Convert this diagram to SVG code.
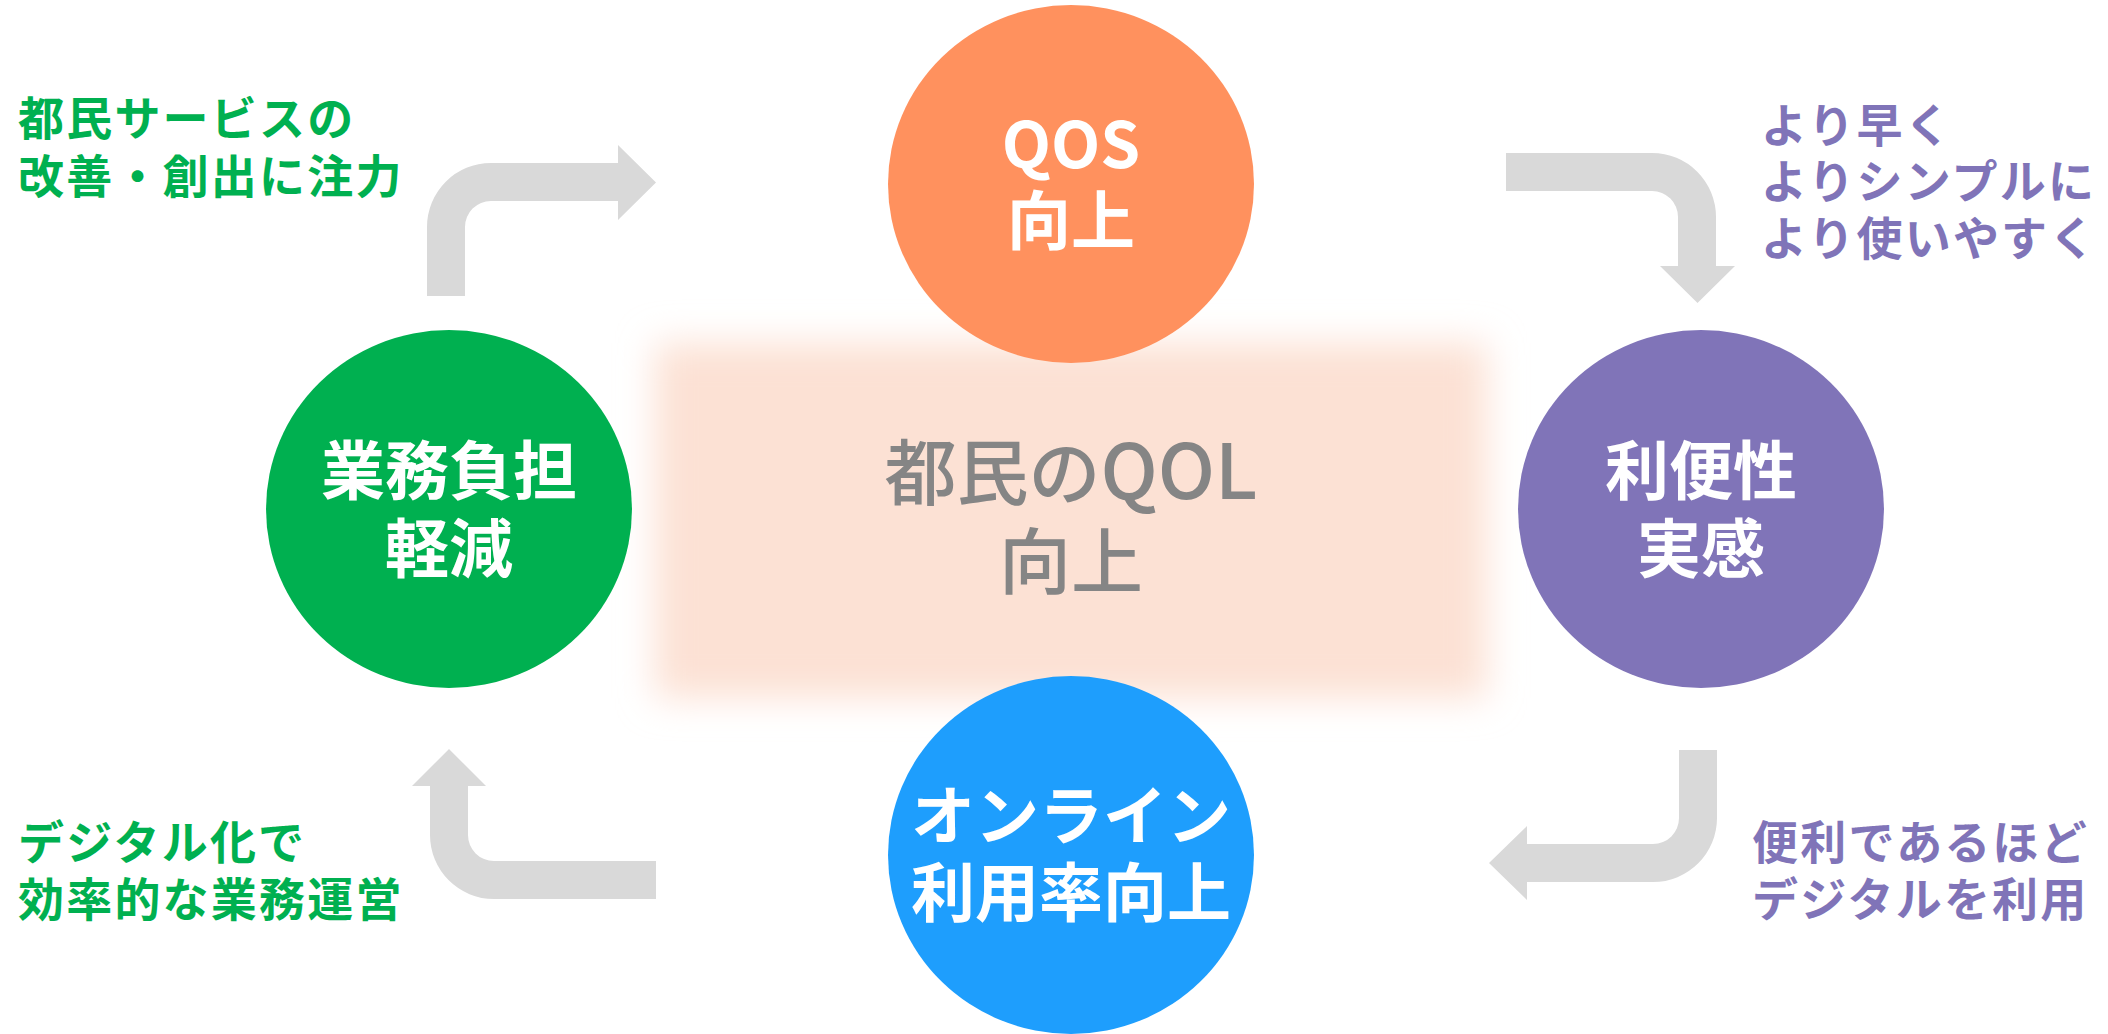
<svg xmlns="http://www.w3.org/2000/svg" width="2108" height="1034" viewBox="0 0 2108 1034">
<defs>
<filter id="soft" x="-20%" y="-30%" width="140%" height="160%">
<feGaussianBlur stdDeviation="18"/>
</filter>
<style>
text{font-family:"Noto Sans CJK JP","Noto Sans",sans-serif;}
.node-label{fill:#FFFFFF;font-size:64px;font-weight:700;text-anchor:middle;}
.center-label{fill:#858585;font-size:72px;font-weight:500;text-anchor:middle;}
.side{font-size:46px;font-weight:700;letter-spacing:2.2px;}
.green{fill:#00B050;}
.purple{fill:#8074B8;}
.arrow{fill:#D9D9D9;}
</style>
</defs>
<rect width="2108" height="1034" fill="#FFFFFF"/>

<g id="center">
<rect x="655" y="343" width="832" height="355" fill="#FCE1D4" filter="url(#soft)"/>
<text class="center-label"><tspan x="1071" y="499">都民の<tspan font-size="76px">QOL</tspan></tspan><tspan x="1071" y="588">向上</tspan></text>
</g>

<g id="connectors">
<path class="arrow" d="M427,296 L427,227 A64,64 0 0 1 491,163 L618,163 L618,145 L656,182.5 L618,220 L618,201 L491,201 A26,26 0 0 0 465,227 L465,296 Z"/>
<path class="arrow" d="M1506,153 L1652,153 A64,64 0 0 1 1716,217 L1716,266 L1735,266 L1697.5,303 L1660,266 L1678,266 L1678,217 A26,26 0 0 0 1652,191 L1506,191 Z"/>
<path class="arrow" d="M1679,750 L1717,750 L1717,818 A64,64 0 0 1 1653,882 L1527,882 L1527,900 L1489,863 L1527,826 L1527,844 L1653,844 A26,26 0 0 0 1679,818 Z"/>
<path class="arrow" d="M656,861 L656,899 L494,899 A64,64 0 0 1 430,835 L430,786 L412,786 L449,749 L486,786 L468,786 L468,835 A26,26 0 0 0 494,861 Z"/>
</g>

<g id="node-qos">
<ellipse cx="1071" cy="184" rx="183" ry="179" fill="#FF915E"/>
<text class="node-label"><tspan x="1071" y="168">QOS</tspan><tspan x="1071" y="244">向上</tspan></text>
</g>

<g id="node-burden">
<ellipse cx="449" cy="509" rx="183" ry="179" fill="#00B050"/>
<text class="node-label"><tspan x="449" y="494">業務負担</tspan><tspan x="449" y="572">軽減</tspan></text>
</g>

<g id="node-convenience">
<ellipse cx="1701" cy="509" rx="183" ry="179" fill="#8074B8"/>
<text class="node-label"><tspan x="1701" y="494">利便性</tspan><tspan x="1701" y="572">実感</tspan></text>
</g>

<g id="node-online">
<ellipse cx="1071" cy="855" rx="183" ry="179" fill="#1E9EFD"/>
<text class="node-label"><tspan x="1071" y="839">オンライン</tspan><tspan x="1071" y="916">利用率向上</tspan></text>
</g>

<g id="label-top-left">
<text class="side green"><tspan x="18" y="135">都民サービスの</tspan><tspan x="18" y="193">改善・創出に注力</tspan></text>
</g>
<g id="label-top-right">
<text class="side purple"><tspan x="1761" y="142">より早く</tspan><tspan x="1761" y="198">よりシンプルに</tspan><tspan x="1761" y="255">より使いやすく</tspan></text>
</g>
<g id="label-bottom-left">
<text class="side green"><tspan x="18" y="859">デジタル化で</tspan><tspan x="18" y="916">効率的な業務運営</tspan></text>
</g>
<g id="label-bottom-right">
<text class="side purple"><tspan x="1752" y="859">便利であるほど</tspan><tspan x="1752" y="916">デジタルを利用</tspan></text>
</g>
</svg>
